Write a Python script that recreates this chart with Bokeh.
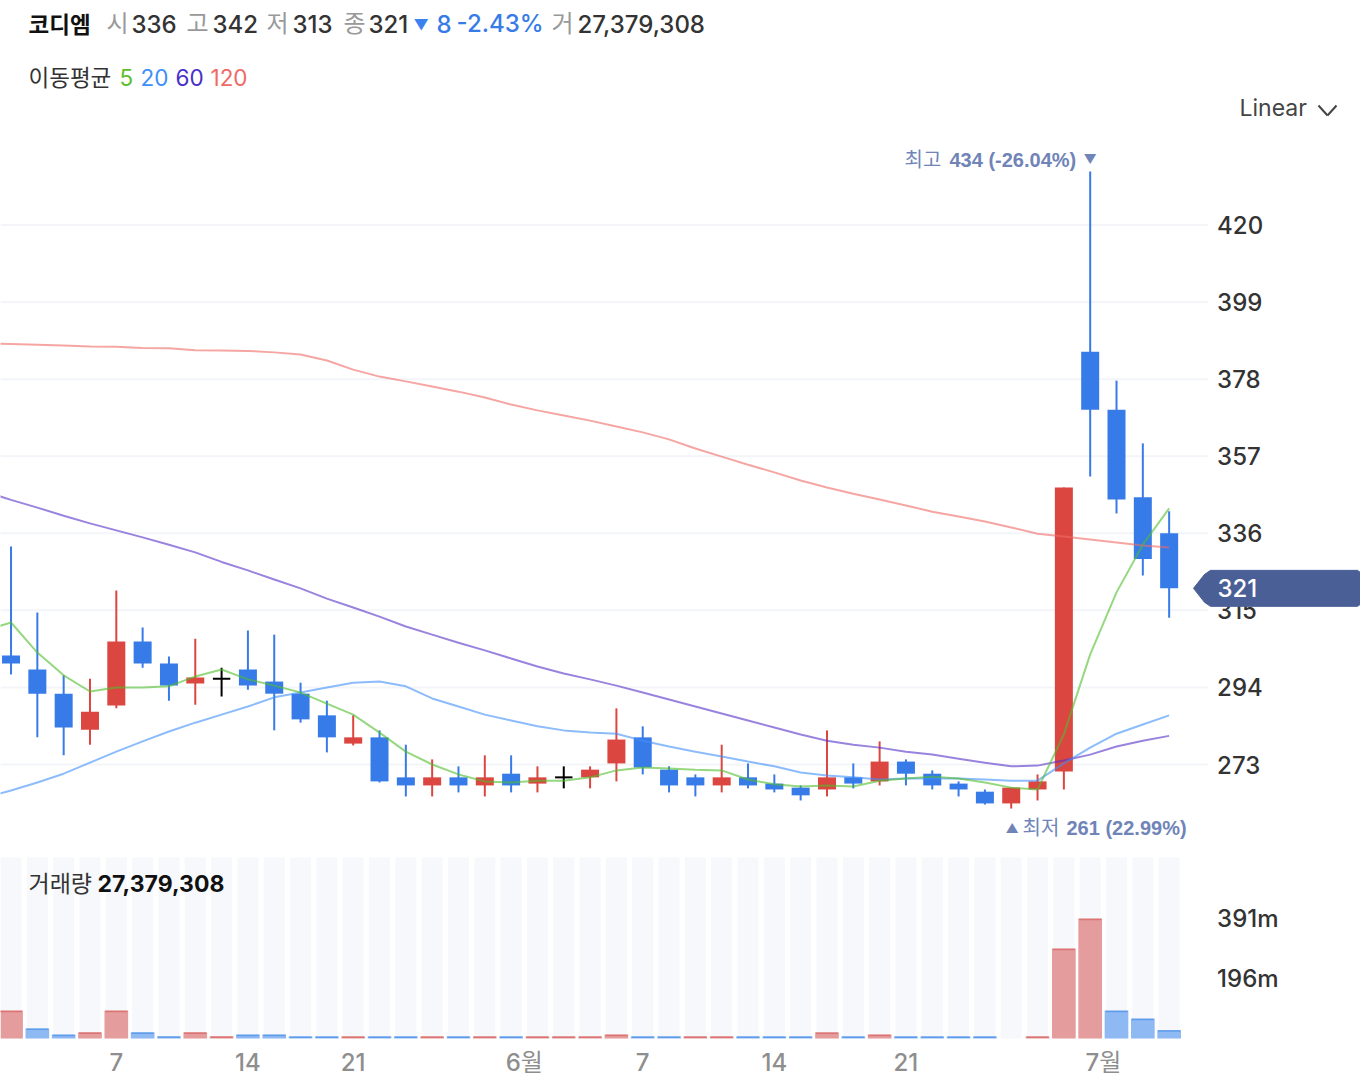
from bokeh.embed import file_html
from bokeh.layouts import column
from bokeh.models import Arrow, ColumnDataSource, FixedTicker, Label, PolyAnnotation, Range1d
from bokeh.plotting import figure
from bokeh.resources import INLINE

# candles
opens = [302.7, 298.9, 292.3, 282.5, 289.1, 306.5, 300.5, 295.1, 296.4, 298.9, 295.6, 292.3, 286.4, 278.7, 280.4,
         269.5, 267.3, 269.5, 267.3, 270.5, 267.8, 269.5, 269.5, 273.3, 280.4, 271.6, 269.5, 267.3, 269.5, 267.8,
         266.7, 266.2, 269.5, 268.4, 273.8, 270.5, 267.8, 265.6, 262.4, 266.2, 271.1, 385.5, 369.7, 345.8, 336]
highs = [332.4, 314.4, 297.3, 296.4, 320.4, 310.3, 302.4, 307.3, 299.4, 309.5, 308.4, 295.3, 290.4, 286.4, 282.3,
         278.4, 274.4, 272.5, 275.5, 275.5, 272.5, 272.5, 272.5, 288.3, 283.4, 272.5, 270.3, 278.4, 273.3, 270.3,
         267.3, 282.3, 273.3, 279.3, 274.4, 271.4, 268.4, 266.2, 266.7, 270.3, 348.5, 434.6, 377.6, 360.5, 342]
lows = [297.5, 280.4, 275.5, 278.4, 288.3, 299.4, 290.4, 289.3, 291.5, 293.4, 282.3, 284.4, 276.3, 278.2, 268.1,
        264.3, 264.3, 265.4, 264.3, 265.4, 265.4, 266.5, 266.5, 268.4, 270.3, 265.4, 264.3, 265.4, 266.5, 265.4,
        263.2, 264.3, 266.5, 267.3, 267.3, 266.2, 264.3, 262.1, 261, 263.2, 266.2, 351.5, 341.4, 324.5, 313]
closes = [300.5, 292.3, 283.1, 287.4, 306.5, 300.5, 294.5, 296.7, 296.4, 294.5, 292.3, 285.3, 280.4, 280.4, 268.4,
          267.3, 269.5, 267.3, 269.5, 267.3, 269.5, 269.5, 271.6, 279.8, 272.2, 267.3, 267.3, 269.5, 267.3, 266.2,
          264.6, 269.5, 267.8, 273.8, 270.5, 267.3, 266.2, 262.4, 266.7, 268.4, 348.5, 369.7, 345.2, 329, 321]

# moving averages, first value is the day before the left edge
ma5 = [309.5, 311.7, 303.5, 297.3, 292.9, 294, 294, 294.3, 297, 298.9, 296.2, 294.5, 292.6, 289.6, 286.6, 281.7,
       276.5, 273, 270.3, 268.4, 268.1, 268.6, 268.6, 269.5, 271.4, 272.2, 271.9, 271.6, 271.4, 268.9, 267.6,
       267, 267.3, 267, 268.6, 269.2, 269.7, 269.2, 268.1, 266.7, 266.2, 281.2, 303, 319.9, 332.9, 342.8]
ma20 = [264, 265.9, 268.1, 270.5, 273.5, 276.5, 279.3, 282, 284.4, 286.6, 288.8, 291.3, 292.6, 294, 295.3, 295.6,
        294.3, 291, 288.8, 286.6, 285, 283.4, 282.3, 281.7, 281.4, 279.5, 277.9, 276.5, 275.2, 273.8, 272.5,
        270.8, 270, 269.5, 268.9, 269.2, 269.2, 269.2, 268.9, 268.6, 268.6, 273.3, 277.6, 281.4, 283.9, 286.4]
ma60 = [347.4, 345.1, 343, 340.8, 338.7, 336.8, 334.9, 332.9, 330.8, 328.2, 325.9, 323.4, 321, 318.2, 315.8, 313.3,
        310.6, 308.4, 306.2, 304.1, 301.9, 299.7, 297.8, 296.2, 294.5, 292.6, 290.7, 288.8, 286.9, 285, 283.1,
        281.2, 279.5, 278.4, 277.6, 276.5, 275.7, 274.6, 273.5, 272.5, 272.7, 274.1, 275.7, 277.9, 279.5, 280.8]
ma120 = [387.7, 387.6, 387.4, 387.2, 386.9, 386.8, 386.5, 386.4, 385.9, 385.8, 385.7, 385.3, 384.7, 383.1, 380.6,
         378.7, 377.4, 376, 374.6, 373, 371.1, 369.5, 368.1, 366.7, 365.1, 363.5, 361.6, 359.1, 356.9, 354.7, 352.6,
         350.4, 348.5, 346.8, 345.2, 343.6, 341.9, 340.6, 339.2, 337.6, 335.9, 335.1, 334.3, 333.5, 332.7, 332.1]

# volume in millions, with the colour of each bar
volumes = [91, 33, 13, 20, 91, 20, 7, 20, 7, 13, 13, 7, 7, 7, 7, 7, 7, 7, 7, 7, 7, 7, 7, 13, 7, 7, 7, 7, 7, 7, 7,
           20, 7, 13, 7, 7, 7, 7, 0, 7, 293, 391, 91, 65, 27.4]
vol_up = [1, 0, 0, 1, 1, 0, 0, 1, 1, 0, 0, 0, 0, 1, 0, 0, 1, 0, 1, 0, 1, 1, 1, 1, 0, 0, 1, 1, 0, 0, 0,
          1, 0, 1, 0, 0, 0, 0, 1, 1, 1, 1, 0, 0, 0]

price_ticks = [273, 294, 315, 336, 357, 378, 399, 420]
vol_ticks = [196, 391]
date_ticks = {4: "7", 9: "14", 13: "21", 19.5: "6월", 24: "7", 29: "14", 34: "21", 41.5: "7월"}

RED = "#dc4640"
BLUE = "#377be8"
TAG = "#7084b8"
FONT = "'Inter Medium', Inter, 'Noto Sans CJK KR'"
PLAIN = "Inter, 'Noto Sans CJK KR'"
TAG_FONT = "'Liberation Sans', 'Noto Sans CJK KR'"
AXIS_END = 45.48  # where the price grid stops and the labels start

days = list(range(len(closes)))
ma_days = [-1] + days

colors = [RED if c > o else BLUE if c < o else "#000000" for o, c in zip(opens, closes)]
candles = ColumnDataSource(data=dict(
    day=days, high=highs, low=lows, color=colors,
    top=[max(o, c) for o, c in zip(opens, closes)],
    bottom=[min(o, c) for o, c in zip(opens, closes)],
))
traded = [d for d in days if volumes[d] > 0]
bars = ColumnDataSource(data=dict(
    day=traded, vol=[volumes[d] for d in traded],
    fill=["#e59c9c" if vol_up[d] else "#8fb9f3" for d in traded],
    edge=["#dc7474" if vol_up[d] else "#5f9dea" for d in traded],
    edge_y=[volumes[d] - 3 for d in traded],
    edge_x0=[d - 0.42 for d in traded],
    edge_x1=[d + 0.42 for d in traded],
))

x_range = Range1d(-0.40, 51.27)

p = figure(width=1360, height=850, x_range=x_range, y_range=Range1d(249.57, 481.18),
           output_backend="svg", toolbar_location=None, y_axis_location="right",
           min_border_left=0, min_border_right=0, min_border_top=0, min_border_bottom=0)
p.outline_line_color = None
p.xaxis.visible = False
p.grid.visible = False
p.yaxis.fixed_location = AXIS_END
p.yaxis.ticker = FixedTicker(ticks=price_ticks)
p.yaxis.axis_line_color = None
p.yaxis.major_tick_line_color = None
p.yaxis.minor_tick_line_color = None
p.yaxis.major_tick_out = 0
p.yaxis.major_label_standoff = 9
p.yaxis.major_label_text_font = FONT
p.yaxis.major_label_text_font_size = "24px"
p.yaxis.major_label_text_color = "#333333"

p.segment(-0.40, price_ticks, AXIS_END, price_ticks, line_color="#f3f5f9", line_width=2)
p.segment("day", "high", "day", "low", source=candles, line_color="color", line_width=2)
p.vbar("day", 0.684, "top", "bottom", source=candles, fill_color="color", line_color=None)
doji = [d for d in days if opens[d] == closes[d]]
p.segment([d - 0.33 for d in doji], [closes[d] for d in doji], [d + 0.33 for d in doji], [closes[d] for d in doji],
          line_color="#000000", line_width=2)

p.line(ma_days, ma120, line_color="#ef6a65", line_alpha=0.6, line_width=2)
p.line(ma_days, ma60, line_color="#5530c8", line_alpha=0.6, line_width=2)
p.line(ma_days, ma20, line_color="#3f8ff8", line_alpha=0.6, line_width=2)
p.line(ma_days, ma5, line_color="#4fbe2c", line_alpha=0.6, line_width=2)


def put(fig, bottom, x, y, text, size, color, bold=False, font=FONT):
    fig.add_layout(Label(x=x, y=bottom - y, x_units="screen", y_units="screen", text=text,
                         text_font=font, text_font_size=f"{size}px", text_color=color,
                         text_font_style="bold" if bold else "normal",
                         text_baseline="middle", text_align="left"))


# header
put(p, 850, 28, 24, "코디엠", 22.5, "#111111", True)
header = [(106, "시", "#999999"), (131, "336", "#333333"), (186, "고", "#999999"), (212, "342", "#333333"),
          (266, "저", "#999999"), (292, "313", "#333333"), (343, "종", "#999999"), (368, "321", "#333333"),
          (436, "8", BLUE), (456, "-2.43%", BLUE), (551, "거", "#999999"), (577, "27,379,308", "#333333")]
for x, text, color in header:
    put(p, 850, x, 23, text, 24, color)
put(p, 850, 413, 24, "▼", 15, "#3b82f0")

legend = [(28, "이동평균", "#333333"), (119, "5", "#5cbf2a"), (140, "20", "#3f8ff8"),
          (175, "60", "#4a2fc9"), (210, "120", "#ef6a65")]
for x, text, color in legend:
    put(p, 850, x, 77, text, 22.5, color, font=PLAIN)

put(p, 850, 1239, 107, "Linear", 23, "#444444", font=PLAIN)
p.add_layout(Arrow(end=None, x_start=1318, y_start=850 - 105, x_end=1327, y_end=850 - 115,
                   start_units="screen", end_units="screen", line_color="#444444", line_width=2))
p.add_layout(Arrow(end=None, x_start=1327, y_start=850 - 115, x_end=1336, y_end=850 - 105,
                   start_units="screen", end_units="screen", line_color="#444444", line_width=2))

# high and low notes
put(p, 850, 904, 159, "최고", 20, TAG)
put(p, 850, 949, 159, "434 (-26.04%)", 20, TAG, True, TAG_FONT)
put(p, 850, 1083, 158, "▼", 13, TAG)
put(p, 850, 1005, 827, "▲", 13, TAG)
put(p, 850, 1022, 827, "최저", 20, TAG)
put(p, 850, 1066, 827, "261 (22.99%)", 20, TAG, True, TAG_FONT)

# last price tag
last = closes[-1]
p.add_layout(PolyAnnotation(xs=[1193, 1204, 1210, 1357, 1360, 1360, 1357, 1210, 1204],
                            ys=[last, last + 3.8, last + 4.9, last + 4.9, last + 4.3,
                                last - 4.3, last - 4.9, last - 4.9, last - 3.8],
                            xs_units="screen", ys_units="data",
                            fill_color="#4a5f96", fill_alpha=1, line_color="#4a5f96", line_alpha=1))
p.add_layout(Label(x=1217, y=last, x_units="screen", y_units="data", text=f"{last}", text_font=FONT,
                   text_font_size="24px", text_font_style="bold", text_color="#ffffff", text_baseline="middle"))

v = figure(width=1360, height=228, x_range=x_range, y_range=Range1d(-130.3, 612.5),
           output_backend="svg", toolbar_location=None, y_axis_location="right",
           min_border_left=0, min_border_right=0, min_border_top=0, min_border_bottom=0)
v.outline_line_color = None
v.grid.visible = False
v.yaxis.fixed_location = AXIS_END
v.xaxis.fixed_location = 0
v.yaxis.ticker = FixedTicker(ticks=vol_ticks)
v.yaxis.major_label_overrides = {t: f"{t}m" for t in vol_ticks}
v.xaxis.ticker = FixedTicker(ticks=list(date_ticks))
v.xaxis.major_label_overrides = date_ticks
for axis in (v.xaxis, v.yaxis):
    axis.axis_line_color = None
    axis.major_tick_line_color = None
    axis.minor_tick_line_color = None
    axis.major_tick_out = 0
    axis.major_label_text_font = FONT
    axis.major_label_text_font_size = "24px"
v.yaxis.major_label_standoff = 9
v.yaxis.major_label_text_color = "#333333"
v.xaxis.major_label_standoff = 9
v.xaxis.major_label_text_color = "#8e8e8e"

v.vbar(days, 0.8, 590, 0, fill_color="#f6f8fc", line_color=None)
v.vbar("day", 0.9, "vol", 0, source=bars, fill_color="fill", line_color=None)
v.segment("edge_x0", "edge_y", "edge_x1", "edge_y", source=bars, line_color="edge", line_width=1.5)

put(v, 228, 28, 883 - 850, "거래량", 23, "#333333", font=PLAIN)
put(v, 228, 97, 883 - 850, "27,379,308", 23, "#111111", True, PLAIN)

layout = column(p, v, spacing=0, margin=0)

open("out.html", "w").write(file_html(layout, INLINE))
